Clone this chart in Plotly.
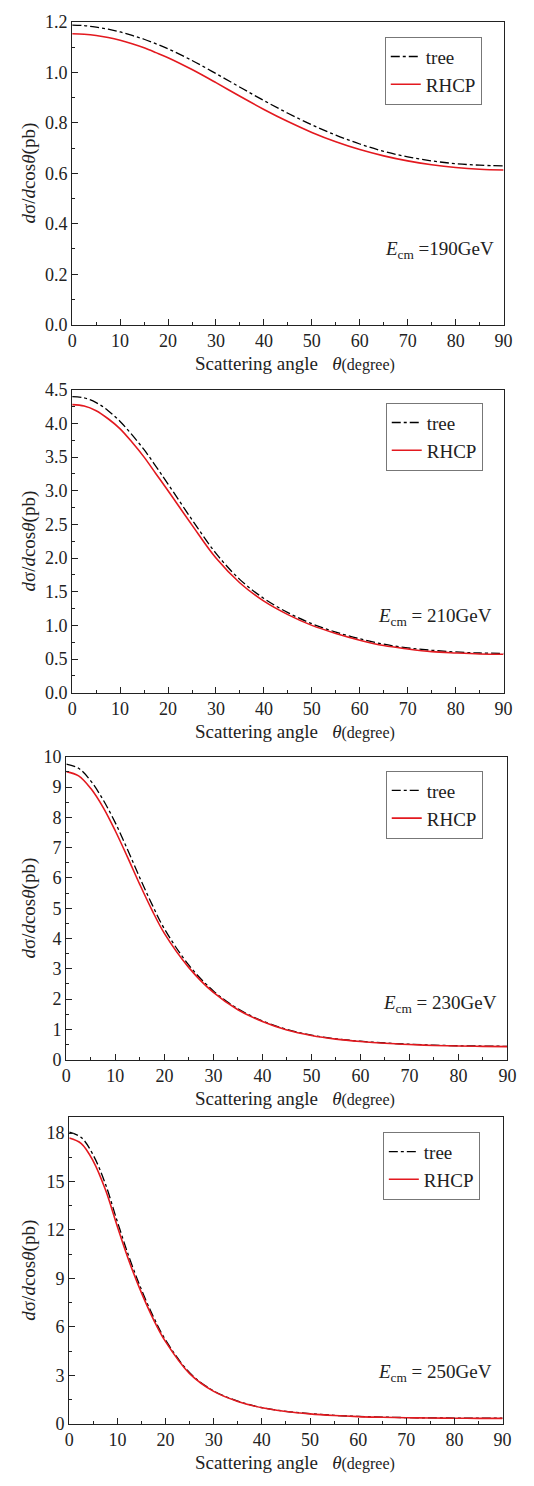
import plotly.graph_objects as go

# scattering angle (degree)
theta = [0, 2.5, 5, 7.5, 10, 12.5, 15, 17.5, 20, 25, 30, 35, 40, 45, 50, 55, 60, 65, 70, 75, 80, 85, 90]

# Ecm = 190 GeV
tree_190 = [1.187, 1.185, 1.179, 1.171, 1.160, 1.146, 1.131, 1.113, 1.093, 1.047, 0.995, 0.941,
            0.888, 0.838, 0.792, 0.751, 0.716, 0.687, 0.665, 0.649, 0.638, 0.632, 0.629]
rhcp_190 = [1.153, 1.151, 1.146, 1.138, 1.127, 1.113, 1.097, 1.078, 1.058, 1.011, 0.959, 0.905,
            0.853, 0.805, 0.762, 0.725, 0.694, 0.669, 0.649, 0.634, 0.623, 0.616, 0.613]

# Ecm = 210 GeV
tree_210 = [4.40, 4.38, 4.31, 4.19, 4.03, 3.83, 3.61, 3.36, 3.10, 2.57, 2.07, 1.68,
            1.40, 1.19, 1.025, 0.90, 0.80, 0.72, 0.665, 0.63, 0.605, 0.59, 0.585]
rhcp_210 = [4.28, 4.26, 4.19, 4.07, 3.92, 3.72, 3.50, 3.25, 3.00, 2.49, 2.00, 1.63,
            1.36, 1.16, 1.00, 0.88, 0.78, 0.70, 0.65, 0.61, 0.59, 0.575, 0.57]

# Ecm = 230 GeV
tree_230 = [9.76, 9.62, 9.20, 8.58, 7.82, 6.93, 6.00, 5.12, 4.32, 3.12, 2.27, 1.68,
            1.28, 1.00, 0.81, 0.69, 0.61, 0.55, 0.51, 0.48, 0.46, 0.45, 0.44]
rhcp_230 = [9.51, 9.37, 8.95, 8.33, 7.55, 6.68, 5.78, 4.93, 4.17, 3.04, 2.22, 1.65,
            1.26, 0.98, 0.80, 0.68, 0.60, 0.54, 0.50, 0.47, 0.45, 0.44, 0.43]

# Ecm = 250 GeV
tree_250 = [18.05, 17.72, 16.62, 14.85, 12.50, 10.25, 8.30, 6.60, 5.18, 3.16, 2.03, 1.40,
            1.00, 0.77, 0.62, 0.52, 0.45, 0.41, 0.38, 0.36, 0.35, 0.34, 0.34]
rhcp_250 = [17.69, 17.35, 16.25, 14.50, 12.20, 10.00, 8.10, 6.45, 5.08, 3.10, 2.00, 1.38,
            0.99, 0.76, 0.61, 0.51, 0.44, 0.40, 0.37, 0.35, 0.34, 0.33, 0.33]

ecm_labels = [" =190GeV", " = 210GeV", " = 230GeV", " = 250GeV"]
tree_sets = [tree_190, tree_210, tree_230, tree_250]
rhcp_sets = [rhcp_190, rhcp_210, rhcp_230, rhcp_250]
y_max = [1.2, 4.5, 10, 19]
y_dtick = [0.2, 0.5, 1, 3]
y_minor = [0.1, 0.25, 0.5, 1.5]
y_fmt = [".1f", ".1f", "d", "d"]

W, H = 534, 1486
# panel boxes in pixels: left, right, top, bottom
boxes = [(69, 512, 12, 319), (69, 512, 385, 692), (63, 516, 757, 1064), (66, 511, 1122, 1433)]
legend_pos = [(390, 27), (391, 398), (391, 771), (388, 1137)]
ecm_pos = [(504, 243), (502, 615), (507, 1008), (502, 1382)]

FONT = "Liberation Serif"
INK = "#222"


def px(x):
    return x / W


def py(y):
    return 1 - y / H


fig = go.Figure()
annotations = []

for i in range(4):
    n = "" if i == 0 else str(i + 1)
    leg = "legend" + n
    fig.add_trace(go.Scatter(x=theta, y=tree_sets[i], mode="lines", name="tree",
                             line=dict(color="black", width=1.3, dash="dashdot", shape="spline"),
                             xaxis="x" + n, yaxis="y" + n, legend=leg))
    fig.add_trace(go.Scatter(x=theta, y=rhcp_sets[i], mode="lines", name="RHCP",
                             line=dict(color="#e3191f", width=1.6, shape="spline"),
                             xaxis="x" + n, yaxis="y" + n, legend=leg))

    l, r, t, b = boxes[i]
    axis_common = dict(showline=True, linecolor=INK, linewidth=1.3, mirror=True,
                       ticks="inside", ticklen=6, tickwidth=1.2, tickcolor=INK,
                       showgrid=False, zeroline=False,
                       tickfont=dict(family=FONT, size=18, color=INK))
    fig.update_layout({
        "xaxis" + n: dict(domain=[px(l), px(r)], range=[0, 90], dtick=10, tick0=0,
                          anchor="y" + n,
                          minor=dict(dtick=5, ticks="inside", ticklen=3, tickcolor=INK),
                          **axis_common),
        "yaxis" + n: dict(domain=[py(b), py(t)], range=[0, y_max[i]], dtick=y_dtick[i], tick0=0,
                          tickformat=y_fmt[i], anchor="x" + n,
                          minor=dict(dtick=y_minor[i], ticks="inside", ticklen=3, tickcolor=INK),
                          **axis_common),
        leg: dict(x=px(legend_pos[i][0]), y=py(legend_pos[i][1]), xanchor="left", yanchor="top",
                  bgcolor="white", bordercolor="#777", borderwidth=1,
                  font=dict(family=FONT, size=19, color=INK),
                  tracegroupgap=0, itemwidth=30),
    })

    annotations.append(dict(text="<i>E</i><sub>cm</sub>" + ecm_labels[i],
                            x=px(ecm_pos[i][0]), y=py(ecm_pos[i][1]), xref="paper", yref="paper",
                            xanchor="right", yanchor="middle", showarrow=False,
                            font=dict(family=FONT, size=19, color=INK)))
    annotations.append(dict(text="<i>d</i>σ/<i>d</i>cos<i>θ</i>(pb)",
                            x=px(25), y=py((t + b) / 2), xref="paper", yref="paper",
                            xanchor="center", yanchor="middle", textangle=-90, showarrow=False,
                            font=dict(family=FONT, size=19, color=INK)))
    annotations.append(dict(text="Scattering angle   <i>θ</i><span style='font-size:16px'>(degree)</span>",
                            x=px(298), y=py(b + 39), xref="paper", yref="paper",
                            xanchor="center", yanchor="middle", showarrow=False,
                            font=dict(family=FONT, size=19, color=INK)))

fig.update_layout(width=W, height=H, margin=dict(l=0, r=0, t=0, b=0),
                  font=dict(family=FONT, size=17, color=INK),
                  paper_bgcolor="white", plot_bgcolor="white",
                  annotations=annotations, showlegend=True)

# the page's default body margin would shift the figure by 8px
fig.write_html("out.html", config={"displayModeBar": False},
               post_script="document.body.style.margin='0';document.body.style.overflow='hidden';")
